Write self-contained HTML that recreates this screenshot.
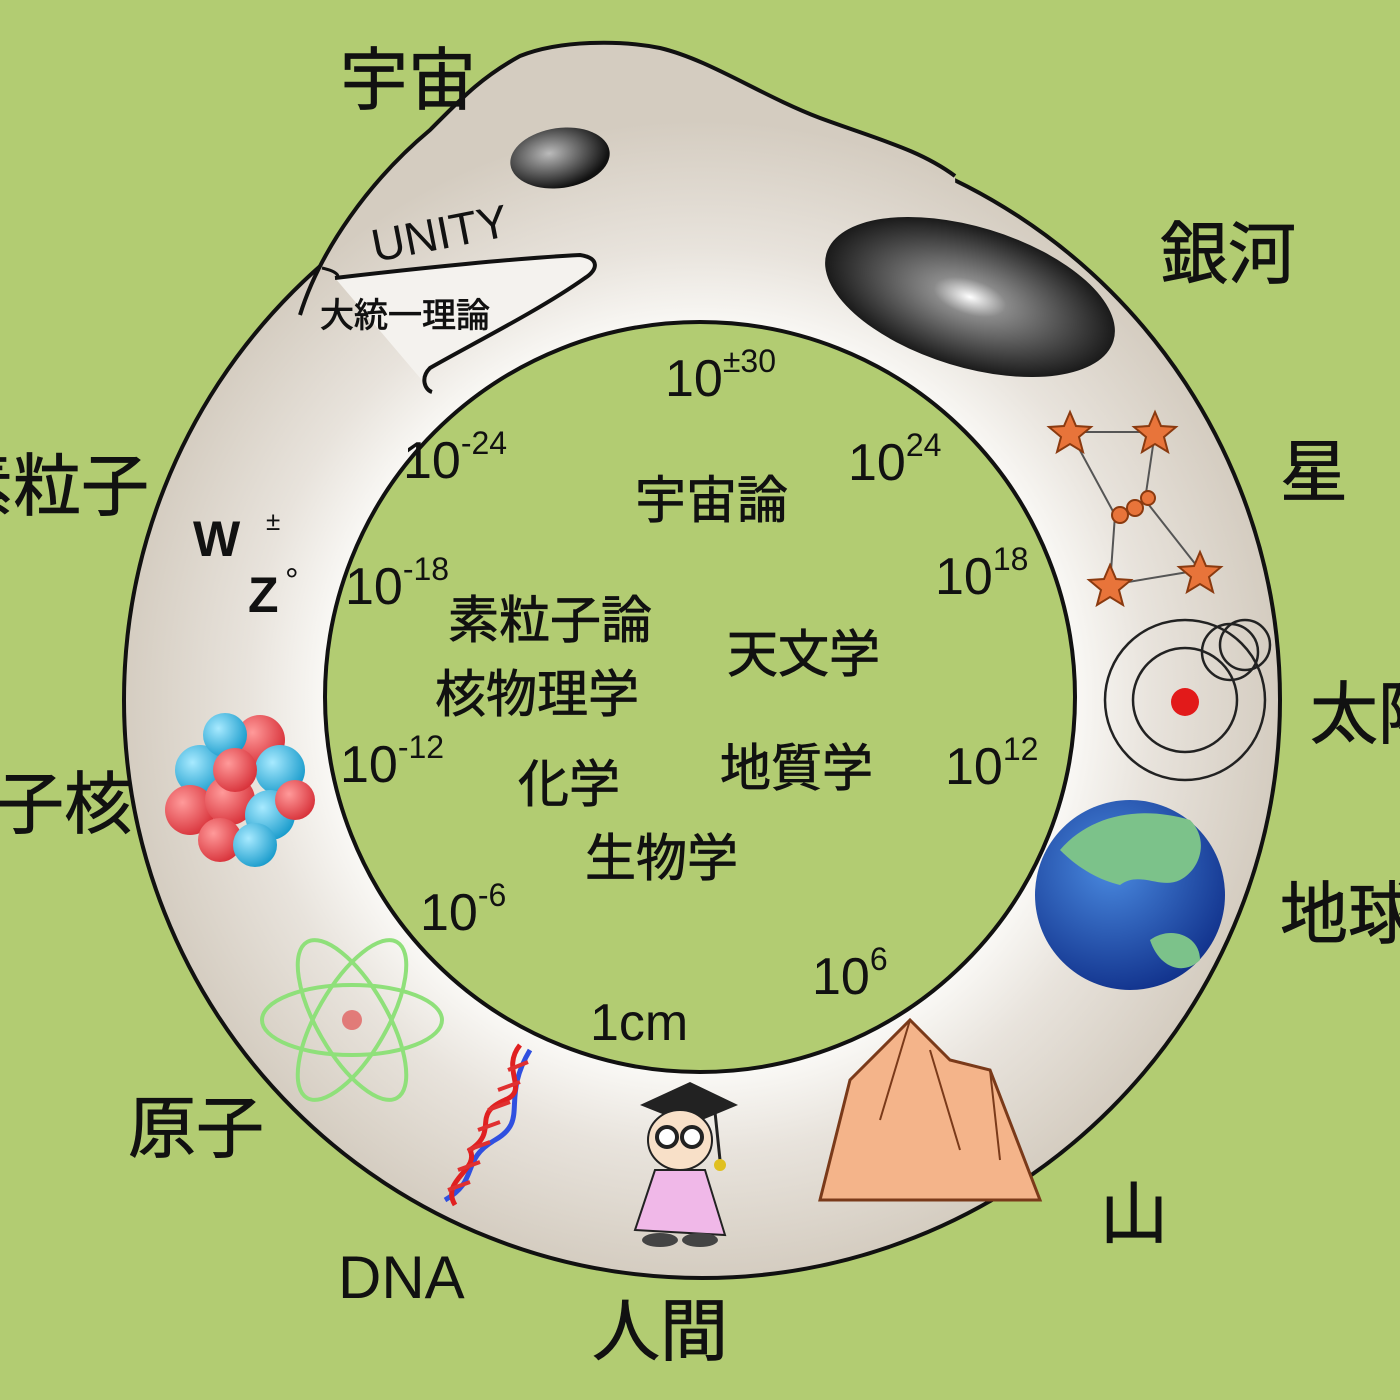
<!DOCTYPE html>
<html><head><meta charset="utf-8"><style>
html,body{margin:0;padding:0;background:#b2cc72;}
svg{display:block}
.j{font-family:"Liberation Sans","Noto Sans CJK JP",sans-serif;fill:#111;stroke:#111;stroke-width:0.8;}
.n{font-family:"Liberation Sans",sans-serif;fill:#111;}
</style></head><body>
<svg width="1400" height="1400" viewBox="0 0 1400 1400" xmlns="http://www.w3.org/2000/svg">
<defs>
<radialGradient id="ring" cx="700" cy="700" r="580" gradientUnits="userSpaceOnUse">
<stop offset="0.64" stop-color="#faf9f6"/><stop offset="0.78" stop-color="#e8e3dc"/><stop offset="1" stop-color="#d4ccc0"/>
</radialGradient>
<radialGradient id="gal" cx="0.5" cy="0.5" r="0.5"><stop offset="0" stop-color="#fff"/><stop offset="0.25" stop-color="#8a8a8a"/><stop offset="1" stop-color="#1a1a1a"/></radialGradient>
<radialGradient id="eye" cx="0.4" cy="0.4" r="0.6"><stop offset="0" stop-color="#bbb"/><stop offset="1" stop-color="#111"/></radialGradient>
<radialGradient id="rb" cx="0.35" cy="0.35" r="0.7"><stop offset="0" stop-color="#ff9a9a"/><stop offset="1" stop-color="#d8323a"/></radialGradient>
<radialGradient id="bb" cx="0.35" cy="0.35" r="0.7"><stop offset="0" stop-color="#a8eaff"/><stop offset="1" stop-color="#1a9ccc"/></radialGradient>
<radialGradient id="earth" cx="0.4" cy="0.35" r="0.7"><stop offset="0" stop-color="#4a8ae0"/><stop offset="1" stop-color="#10308a"/></radialGradient>
</defs>
<rect width="1400" height="1400" fill="#b2cc72"/>
<!-- body ring -->
<circle cx="702" cy="700" r="578" fill="url(#ring)" stroke="#111" stroke-width="4"/>
<!-- head -->
<path d="M300,315 C320,250 370,180 430,130 C460,100 480,78 520,56 C560,40 620,40 660,48 C710,60 760,95 820,118 C880,140 920,150 955,174 L960,420 L430,395 Z" fill="url(#ring)"/>
<path d="M300,315 C320,250 370,180 430,130 C460,100 480,78 520,56 C560,40 620,40 660,48 C710,60 760,95 820,118 C880,140 920,150 955,176" fill="none" stroke="#111" stroke-width="4"/>
<circle cx="700" cy="697" r="375" fill="#b2cc72" stroke="#111" stroke-width="4"/>
<!-- mouth -->
<path d="M335,278 C420,268 520,258 580,255 C600,258 598,270 585,278 C540,310 470,345 430,368 C420,378 425,390 432,392" fill="#f4f2ee" stroke="#111" stroke-width="4"/>
<path d="M322,268 C340,272 340,278 335,278" fill="none" stroke="#111" stroke-width="3"/>
<!-- eye -->
<ellipse cx="560" cy="158" rx="50" ry="30" fill="url(#eye)" transform="rotate(-8 560 158)"/>
<!-- galaxy -->
<ellipse cx="970" cy="297" rx="150" ry="70" fill="url(#gal)" transform="rotate(17 970 297)"/>
<!-- stars -->
<g stroke="#555" stroke-width="2" fill="none">
<path d="M1070,432 L1155,432 L1145,500 L1115,515 L1110,585 L1200,570 L1145,500 M1070,432 L1115,515"/>
</g>
<g fill="#e8743a" stroke="#8a3a10" stroke-width="2">
<polygon points="1070,412 1076,426 1091,427 1079,437 1083,452 1070,444 1057,452 1061,437 1049,427 1064,426"/>
<polygon points="1155,412 1161,426 1176,427 1164,437 1168,452 1155,444 1142,452 1146,437 1134,427 1149,426"/>
<polygon points="1110,565 1116,579 1131,580 1119,590 1123,605 1110,597 1097,605 1101,590 1089,580 1104,579"/>
<polygon points="1200,552 1206,566 1221,567 1209,577 1213,592 1200,584 1187,592 1191,577 1179,567 1194,566"/>
<circle cx="1120" cy="515" r="8"/><circle cx="1135" cy="508" r="8"/><circle cx="1148" cy="498" r="7"/>
</g>
<!-- sun -->
<g fill="none" stroke="#222" stroke-width="2.5">
<circle cx="1185" cy="700" r="80"/><circle cx="1185" cy="700" r="52"/><circle cx="1230" cy="652" r="28"/><circle cx="1245" cy="645" r="25"/>
</g>
<circle cx="1185" cy="702" r="14" fill="#e21a1a"/>
<!-- earth -->
<circle cx="1130" cy="895" r="95" fill="url(#earth)"/>
<path d="M1060,850 C1090,815 1140,805 1190,820 C1210,840 1200,870 1180,880 C1160,890 1140,870 1120,885 C1100,880 1080,870 1060,850 Z" fill="#7cc28a"/>
<path d="M1150,940 C1170,925 1200,935 1200,960 C1185,975 1160,970 1150,940 Z" fill="#7cc28a"/>
<!-- mountain -->
<polygon points="820,1200 850,1080 910,1020 950,1060 990,1070 1040,1200" fill="#f4b48a" stroke="#7a3a1a" stroke-width="3"/>
<path d="M910,1020 L880,1120 M930,1050 L960,1150 M990,1070 L1000,1160" stroke="#7a3a1a" stroke-width="2" fill="none"/>
<!-- nucleus -->
<g>
<circle cx="200" cy="770" r="25" fill="url(#bb)"/><circle cx="260" cy="740" r="25" fill="url(#rb)"/><circle cx="225" cy="735" r="22" fill="url(#bb)"/>
<circle cx="280" cy="770" r="25" fill="url(#bb)"/><circle cx="190" cy="810" r="25" fill="url(#rb)"/><circle cx="230" cy="800" r="25" fill="url(#rb)"/>
<circle cx="270" cy="815" r="25" fill="url(#bb)"/><circle cx="220" cy="840" r="22" fill="url(#rb)"/><circle cx="255" cy="845" r="22" fill="url(#bb)"/>
<circle cx="295" cy="800" r="20" fill="url(#rb)"/><circle cx="235" cy="770" r="22" fill="url(#rb)"/>
</g>
<!-- atom -->
<g fill="none" stroke="#8fe07a" stroke-width="4">
<ellipse cx="352" cy="1020" rx="90" ry="35"/><ellipse cx="352" cy="1020" rx="90" ry="35" transform="rotate(60 352 1020)"/><ellipse cx="352" cy="1020" rx="90" ry="35" transform="rotate(-60 352 1020)"/>
</g>
<circle cx="352" cy="1020" r="10" fill="#e05050" opacity="0.7"/>
<!-- DNA -->
<g stroke-width="5" fill="none">
<path d="M445,1200 C480,1180 460,1160 495,1140 C530,1120 500,1100 530,1050" stroke="#3050e0"/>
<path d="M455,1205 C440,1180 480,1170 470,1150 C500,1130 470,1115 505,1100 C530,1090 500,1070 520,1045" stroke="#e02020"/>
<path d="M448,1190 l22,-8 M458,1170 l22,-8 M468,1150 l22,-8 M478,1130 l22,-8 M488,1110 l22,-8 M498,1090 l22,-8 M508,1070 l20,-8" stroke="#e03030" stroke-width="4"/>
</g>
<!-- person -->
<polygon points="640,1105 690,1082 738,1105 690,1125" fill="#222"/>
<path d="M715,1112 L720,1160" stroke="#222" stroke-width="3"/><circle cx="720" cy="1165" r="6" fill="#e0c020"/>
<ellipse cx="680" cy="1140" rx="32" ry="30" fill="#f8e0c8" stroke="#222" stroke-width="2"/>
<circle cx="667" cy="1137" r="10" fill="#fff" stroke="#222" stroke-width="4"/><circle cx="692" cy="1137" r="10" fill="#fff" stroke="#222" stroke-width="4"/>
<path d="M655,1170 L635,1230 L725,1235 L705,1170 Z" fill="#f0b8e8" stroke="#222" stroke-width="2"/>
<ellipse cx="660" cy="1240" rx="18" ry="7" fill="#444"/><ellipse cx="700" cy="1240" rx="18" ry="7" fill="#444"/>
<!-- ring text -->
<text x="375" y="262" class="n" font-size="46" transform="rotate(-11 375 262)">UNITY</text>
<text x="320" y="327" class="j" font-size="34">大統一理論</text>
<text x="193" y="556" class="n" font-size="50" font-weight="bold">W</text><text x="266" y="530" class="n" font-size="26">±</text>
<text x="248" y="612" class="n" font-size="50" font-weight="bold">Z</text><text x="285" y="592" class="n" font-size="34">°</text>
<!-- outer labels -->
<g class="j" font-size="68">
<text x="340" y="104">宇宙</text>
<text x="1160" y="278">銀河</text>
<text x="1280" y="496">星</text>
<text x="1310" y="738">太陽</text>
<text x="1280" y="938">地球</text>
<text x="1100" y="1238">山</text>
<text x="592" y="1355">人間</text>
<text x="128" y="1152">原子</text>
<text x="-72" y="828">原子核</text>
<text x="-55" y="510">素粒子</text>
</g>
<text x="338" y="1298" class="n" font-size="60">DNA</text>
<!-- inner labels -->
<g class="j" font-size="51">
<text x="635" y="518">宇宙論</text>
<text x="448" y="638">素粒子論</text>
<text x="727" y="672">天文学</text>
<text x="435" y="712">核物理学</text>
<text x="518" y="802">化学</text>
<text x="720" y="786">地質学</text>
<text x="585" y="876">生物学</text>
</g>
<g class="n" font-size="52">
<text x="665" y="396">10<tspan font-size="32" dy="-24">±30</tspan></text>
<text x="403" y="478">10<tspan font-size="32" dy="-24">-24</tspan></text>
<text x="848" y="480">10<tspan font-size="32" dy="-24">24</tspan></text>
<text x="345" y="604">10<tspan font-size="32" dy="-24">-18</tspan></text>
<text x="935" y="594">10<tspan font-size="32" dy="-24">18</tspan></text>
<text x="340" y="782">10<tspan font-size="32" dy="-24">-12</tspan></text>
<text x="945" y="784">10<tspan font-size="32" dy="-24">12</tspan></text>
<text x="420" y="930">10<tspan font-size="32" dy="-24">-6</tspan></text>
<text x="812" y="994">10<tspan font-size="32" dy="-24">6</tspan></text>
<text x="590" y="1040">1cm</text>
</g>
</svg>
</body></html>
